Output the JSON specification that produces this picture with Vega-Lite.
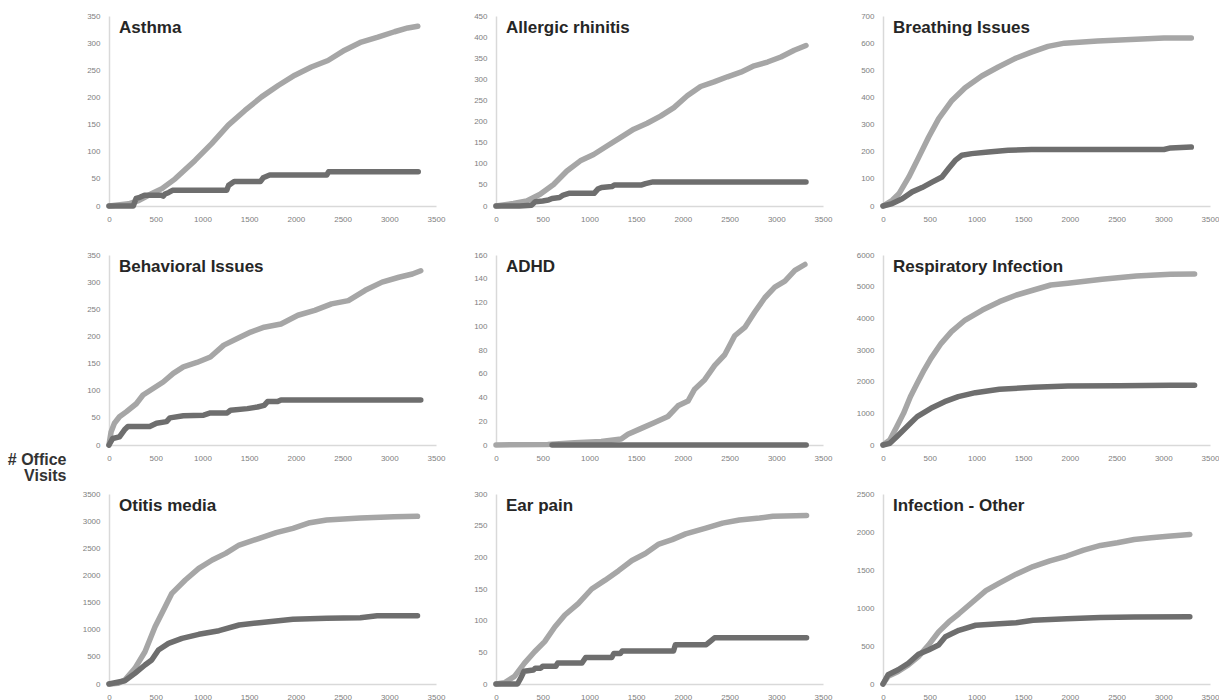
{
  "$schema": "https://vega.github.io/schema/vega-lite/v6.json",
  "background": "white",
  "padding": {"left": 7, "top": 12, "right": 0, "bottom": 0},
  "columns": 3,
  "spacing": {"row": 49, "column": 60},
  "bounds": "flush",
  "datasets": {
    "asthma": [
      {"series":"light","x":0,"y":0},{"series":"light","x":210,"y":4},{"series":"light","x":317,"y":10},{"series":"light","x":459,"y":23},{"series":"light","x":566,"y":32},{"series":"light","x":708,"y":50},{"series":"light","x":921,"y":84},{"series":"light","x":1099,"y":115},{"series":"light","x":1277,"y":149},{"series":"light","x":1455,"y":176},{"series":"light","x":1633,"y":201},{"series":"light","x":1811,"y":222},{"series":"light","x":1989,"y":241},{"series":"light","x":2166,"y":256},{"series":"light","x":2344,"y":268},{"series":"light","x":2522,"y":287},{"series":"light","x":2700,"y":302},{"series":"light","x":2878,"y":311},{"series":"light","x":3056,"y":321},{"series":"light","x":3198,"y":328},{"series":"light","x":3305,"y":331},
      {"series":"dark","x":0,"y":0},{"series":"dark","x":260,"y":0},{"series":"dark","x":290,"y":14},{"series":"dark","x":330,"y":16},{"series":"dark","x":380,"y":20},{"series":"dark","x":560,"y":20},{"series":"dark","x":580,"y":18},{"series":"dark","x":600,"y":22},{"series":"dark","x":640,"y":25},{"series":"dark","x":680,"y":29},{"series":"dark","x":1260,"y":29},{"series":"dark","x":1280,"y":38},{"series":"dark","x":1340,"y":45},{"series":"dark","x":1620,"y":45},{"series":"dark","x":1650,"y":52},{"series":"dark","x":1720,"y":57},{"series":"dark","x":2330,"y":57},{"series":"dark","x":2350,"y":63},{"series":"dark","x":3310,"y":63}
    ],
    "allergic": [
      {"series":"light","x":0,"y":0},{"series":"light","x":186,"y":6},{"series":"light","x":329,"y":12},{"series":"light","x":472,"y":28},{"series":"light","x":616,"y":51},{"series":"light","x":759,"y":83},{"series":"light","x":902,"y":107},{"series":"light","x":1045,"y":122},{"series":"light","x":1188,"y":142},{"series":"light","x":1331,"y":162},{"series":"light","x":1475,"y":182},{"series":"light","x":1618,"y":196},{"series":"light","x":1761,"y":213},{"series":"light","x":1904,"y":233},{"series":"light","x":2047,"y":261},{"series":"light","x":2190,"y":283},{"series":"light","x":2334,"y":294},{"series":"light","x":2477,"y":306},{"series":"light","x":2620,"y":317},{"series":"light","x":2763,"y":332},{"series":"light","x":2906,"y":341},{"series":"light","x":3049,"y":353},{"series":"light","x":3192,"y":369},{"series":"light","x":3318,"y":380},
      {"series":"dark","x":0,"y":0},{"series":"dark","x":250,"y":0},{"series":"dark","x":380,"y":2},{"series":"dark","x":420,"y":10},{"series":"dark","x":500,"y":12},{"series":"dark","x":560,"y":14},{"series":"dark","x":600,"y":18},{"series":"dark","x":680,"y":20},{"series":"dark","x":720,"y":26},{"series":"dark","x":780,"y":30},{"series":"dark","x":1050,"y":30},{"series":"dark","x":1090,"y":40},{"series":"dark","x":1130,"y":44},{"series":"dark","x":1240,"y":46},{"series":"dark","x":1270,"y":50},{"series":"dark","x":1560,"y":50},{"series":"dark","x":1600,"y":53},{"series":"dark","x":1680,"y":57},{"series":"dark","x":3318,"y":57}
    ],
    "breathing": [
      {"series":"light","x":0,"y":0},{"series":"light","x":99,"y":21},{"series":"light","x":170,"y":45},{"series":"light","x":277,"y":107},{"series":"light","x":383,"y":180},{"series":"light","x":489,"y":254},{"series":"light","x":596,"y":322},{"series":"light","x":738,"y":389},{"series":"light","x":879,"y":436},{"series":"light","x":1057,"y":479},{"series":"light","x":1234,"y":512},{"series":"light","x":1411,"y":543},{"series":"light","x":1589,"y":567},{"series":"light","x":1766,"y":588},{"series":"light","x":1943,"y":600},{"series":"light","x":2298,"y":608},{"series":"light","x":2652,"y":613},{"series":"light","x":3007,"y":619},{"series":"light","x":3300,"y":619},
      {"series":"dark","x":0,"y":0},{"series":"dark","x":99,"y":9},{"series":"dark","x":206,"y":27},{"series":"dark","x":312,"y":52},{"series":"dark","x":418,"y":68},{"series":"dark","x":525,"y":88},{"series":"dark","x":631,"y":107},{"series":"dark","x":702,"y":138},{"series":"dark","x":773,"y":168},{"series":"dark","x":844,"y":187},{"series":"dark","x":950,"y":193},{"series":"dark","x":1128,"y":199},{"series":"dark","x":1340,"y":205},{"series":"dark","x":1589,"y":208},{"series":"dark","x":3007,"y":208},{"series":"dark","x":3078,"y":214},{"series":"dark","x":3300,"y":217}
    ],
    "behavioral": [
      {"series":"light","x":0,"y":0},{"series":"light","x":22,"y":24},{"series":"light","x":58,"y":40},{"series":"light","x":112,"y":52},{"series":"light","x":184,"y":61},{"series":"light","x":292,"y":76},{"series":"light","x":364,"y":92},{"series":"light","x":472,"y":104},{"series":"light","x":580,"y":116},{"series":"light","x":688,"y":132},{"series":"light","x":796,"y":144},{"series":"light","x":941,"y":152},{"series":"light","x":1085,"y":162},{"series":"light","x":1229,"y":184},{"series":"light","x":1373,"y":196},{"series":"light","x":1517,"y":208},{"series":"light","x":1661,"y":217},{"series":"light","x":1841,"y":223},{"series":"light","x":2022,"y":239},{"series":"light","x":2202,"y":248},{"series":"light","x":2382,"y":260},{"series":"light","x":2562,"y":266},{"series":"light","x":2742,"y":285},{"series":"light","x":2923,"y":300},{"series":"light","x":3103,"y":309},{"series":"light","x":3247,"y":315},{"series":"light","x":3337,"y":321},
      {"series":"dark","x":0,"y":0},{"series":"dark","x":40,"y":12},{"series":"dark","x":112,"y":15},{"series":"dark","x":166,"y":28},{"series":"dark","x":202,"y":34},{"series":"dark","x":436,"y":34},{"series":"dark","x":508,"y":40},{"series":"dark","x":616,"y":43},{"series":"dark","x":652,"y":50},{"series":"dark","x":796,"y":54},{"series":"dark","x":1013,"y":55},{"series":"dark","x":1085,"y":59},{"series":"dark","x":1265,"y":59},{"series":"dark","x":1301,"y":64},{"series":"dark","x":1481,"y":67},{"series":"dark","x":1589,"y":70},{"series":"dark","x":1661,"y":73},{"series":"dark","x":1697,"y":80},{"series":"dark","x":1805,"y":80},{"series":"dark","x":1841,"y":83},{"series":"dark","x":3337,"y":83}
    ],
    "adhd": [
      {"series":"light","x":0,"y":0},{"series":"light","x":554,"y":0.5},{"series":"light","x":840,"y":2},{"series":"light","x":1126,"y":3},{"series":"light","x":1340,"y":5},{"series":"light","x":1412,"y":9},{"series":"light","x":1555,"y":14},{"series":"light","x":1698,"y":19},{"series":"light","x":1840,"y":24},{"series":"light","x":1948,"y":33},{"series":"light","x":2055,"y":37},{"series":"light","x":2126,"y":47},{"series":"light","x":2234,"y":55},{"series":"light","x":2341,"y":67},{"series":"light","x":2448,"y":76},{"series":"light","x":2555,"y":92},{"series":"light","x":2663,"y":99},{"series":"light","x":2770,"y":112},{"series":"light","x":2877,"y":124},{"series":"light","x":2984,"y":133},{"series":"light","x":3092,"y":138},{"series":"light","x":3199,"y":147},{"series":"light","x":3306,"y":152},
      {"series":"dark","x":600,"y":0},{"series":"dark","x":3320,"y":0}
    ],
    "respiratory": [
      {"series":"light","x":0,"y":0},{"series":"light","x":73,"y":158},{"series":"light","x":147,"y":579},{"series":"light","x":220,"y":1000},{"series":"light","x":293,"y":1526},{"series":"light","x":366,"y":1947},{"series":"light","x":440,"y":2368},{"series":"light","x":513,"y":2737},{"series":"light","x":623,"y":3211},{"series":"light","x":733,"y":3579},{"series":"light","x":879,"y":3947},{"series":"light","x":1063,"y":4263},{"series":"light","x":1246,"y":4526},{"series":"light","x":1429,"y":4737},{"series":"light","x":1612,"y":4895},{"series":"light","x":1796,"y":5053},{"series":"light","x":1979,"y":5105},{"series":"light","x":2345,"y":5232},{"series":"light","x":2712,"y":5337},{"series":"light","x":3078,"y":5389},{"series":"light","x":3335,"y":5400},
      {"series":"dark","x":0,"y":0},{"series":"dark","x":73,"y":53},{"series":"dark","x":147,"y":263},{"series":"dark","x":220,"y":474},{"series":"dark","x":293,"y":684},{"series":"dark","x":366,"y":895},{"series":"dark","x":513,"y":1158},{"series":"dark","x":660,"y":1368},{"series":"dark","x":806,"y":1526},{"series":"dark","x":989,"y":1653},{"series":"dark","x":1246,"y":1758},{"series":"dark","x":1612,"y":1821},{"series":"dark","x":1979,"y":1863},{"series":"dark","x":2528,"y":1874},{"series":"dark","x":3078,"y":1884},{"series":"dark","x":3335,"y":1884}
    ],
    "otitis": [
      {"series":"light","x":0,"y":0},{"series":"light","x":97,"y":12},{"series":"light","x":169,"y":74},{"series":"light","x":277,"y":289},{"series":"light","x":385,"y":595},{"series":"light","x":493,"y":1056},{"series":"light","x":601,"y":1424},{"series":"light","x":673,"y":1670},{"series":"light","x":817,"y":1915},{"series":"light","x":961,"y":2130},{"series":"light","x":1105,"y":2284},{"series":"light","x":1249,"y":2406},{"series":"light","x":1393,"y":2560},{"series":"light","x":1609,"y":2683},{"series":"light","x":1789,"y":2787},{"series":"light","x":1969,"y":2867},{"series":"light","x":2150,"y":2971},{"series":"light","x":2330,"y":3020},{"series":"light","x":2690,"y":3057},{"series":"light","x":3050,"y":3082},{"series":"light","x":3302,"y":3088},
      {"series":"dark","x":0,"y":0},{"series":"dark","x":169,"y":61},{"series":"dark","x":277,"y":196},{"series":"dark","x":385,"y":350},{"series":"dark","x":457,"y":442},{"series":"dark","x":529,"y":626},{"series":"dark","x":637,"y":749},{"series":"dark","x":781,"y":841},{"series":"dark","x":961,"y":915},{"series":"dark","x":1178,"y":982},{"series":"dark","x":1393,"y":1087},{"series":"dark","x":1609,"y":1130},{"series":"dark","x":1969,"y":1191},{"series":"dark","x":2330,"y":1209},{"series":"dark","x":2690,"y":1222},{"series":"dark","x":2870,"y":1258},{"series":"dark","x":3302,"y":1258}
    ],
    "ear": [
      {"series":"light","x":0,"y":0},{"series":"light","x":90,"y":2},{"series":"light","x":198,"y":12},{"series":"light","x":305,"y":33},{"series":"light","x":413,"y":51},{"series":"light","x":521,"y":67},{"series":"light","x":629,"y":90},{"series":"light","x":737,"y":109},{"series":"light","x":880,"y":127},{"series":"light","x":1024,"y":150},{"series":"light","x":1168,"y":164},{"series":"light","x":1312,"y":179},{"series":"light","x":1455,"y":195},{"series":"light","x":1599,"y":206},{"series":"light","x":1743,"y":221},{"series":"light","x":1886,"y":228},{"series":"light","x":2030,"y":237},{"series":"light","x":2246,"y":246},{"series":"light","x":2425,"y":254},{"series":"light","x":2605,"y":259},{"series":"light","x":2821,"y":262},{"series":"light","x":2964,"y":265},{"series":"light","x":3324,"y":266},
      {"series":"dark","x":0,"y":0},{"series":"dark","x":230,"y":0},{"series":"dark","x":260,"y":8},{"series":"dark","x":300,"y":20},{"series":"dark","x":400,"y":22},{"series":"dark","x":420,"y":25},{"series":"dark","x":480,"y":25},{"series":"dark","x":500,"y":28},{"series":"dark","x":640,"y":28},{"series":"dark","x":660,"y":33},{"series":"dark","x":920,"y":33},{"series":"dark","x":960,"y":42},{"series":"dark","x":1240,"y":42},{"series":"dark","x":1260,"y":48},{"series":"dark","x":1330,"y":48},{"series":"dark","x":1350,"y":52},{"series":"dark","x":1900,"y":52},{"series":"dark","x":1920,"y":62},{"series":"dark","x":2250,"y":62},{"series":"dark","x":2300,"y":68},{"series":"dark","x":2340,"y":73},{"series":"dark","x":3324,"y":73}
    ],
    "infection": [
      {"series":"light","x":0,"y":0},{"series":"light","x":54,"y":100},{"series":"light","x":162,"y":165},{"series":"light","x":271,"y":252},{"series":"light","x":379,"y":360},{"series":"light","x":487,"y":512},{"series":"light","x":595,"y":686},{"series":"light","x":704,"y":816},{"series":"light","x":812,"y":924},{"series":"light","x":956,"y":1076},{"series":"light","x":1101,"y":1228},{"series":"light","x":1245,"y":1328},{"series":"light","x":1425,"y":1445},{"series":"light","x":1606,"y":1545},{"series":"light","x":1786,"y":1619},{"series":"light","x":1967,"y":1684},{"series":"light","x":2147,"y":1762},{"series":"light","x":2328,"y":1823},{"series":"light","x":2508,"y":1858},{"series":"light","x":2689,"y":1901},{"series":"light","x":2869,"y":1923},{"series":"light","x":3050,"y":1944},{"series":"light","x":3284,"y":1966},
      {"series":"dark","x":0,"y":0},{"series":"dark","x":54,"y":122},{"series":"dark","x":162,"y":187},{"series":"dark","x":271,"y":273},{"series":"dark","x":379,"y":391},{"series":"dark","x":487,"y":447},{"series":"dark","x":595,"y":512},{"series":"dark","x":668,"y":621},{"series":"dark","x":812,"y":707},{"series":"dark","x":992,"y":773},{"series":"dark","x":1245,"y":794},{"series":"dark","x":1425,"y":807},{"series":"dark","x":1606,"y":838},{"series":"dark","x":1967,"y":859},{"series":"dark","x":2328,"y":875},{"series":"dark","x":2689,"y":881},{"series":"dark","x":3284,"y":885}
    ]
  },
  "concat": [
    {
      "width": 327, "height": 190,
      "data": {"name": "asthma"},
      "title": "Asthma",
      "mark": "line",
      "encoding": {
        "x": {"field": "x", "type": "quantitative", "scale": {"domain": [0, 3500], "nice": false}, "axis": {"values": [0,500,1000,1500,2000,2500,3000,3500], "title": null}},
        "y": {"field": "y", "type": "quantitative", "scale": {"domain": [0, 350], "nice": false}, "axis": {"values": [0,50,100,150,200,250,300,350], "title": null}},
        "color": {"field": "series", "type": "nominal", "scale": {"domain": ["light", "dark"], "range": ["#a6a6a6", "#6e6e6e"]}, "legend": null}
      }
    },
    {
      "width": 327, "height": 190,
      "data": {"name": "allergic"},
      "title": "Allergic  rhinitis",
      "mark": "line",
      "encoding": {
        "x": {"field": "x", "type": "quantitative", "scale": {"domain": [0, 3500], "nice": false}, "axis": {"values": [0,500,1000,1500,2000,2500,3000,3500], "title": null}},
        "y": {"field": "y", "type": "quantitative", "scale": {"domain": [0, 450], "nice": false}, "axis": {"values": [0,50,100,150,200,250,300,350,400,450], "title": null}},
        "color": {"field": "series", "type": "nominal", "scale": {"domain": ["light", "dark"], "range": ["#a6a6a6", "#6e6e6e"]}, "legend": null}
      }
    },
    {
      "width": 327, "height": 190,
      "data": {"name": "breathing"},
      "title": "Breathing  Issues",
      "mark": "line",
      "encoding": {
        "x": {"field": "x", "type": "quantitative", "scale": {"domain": [0, 3500], "nice": false}, "axis": {"values": [0,500,1000,1500,2000,2500,3000,3500], "title": null}},
        "y": {"field": "y", "type": "quantitative", "scale": {"domain": [0, 700], "nice": false}, "axis": {"values": [0,100,200,300,400,500,600,700], "title": null}},
        "color": {"field": "series", "type": "nominal", "scale": {"domain": ["light", "dark"], "range": ["#a6a6a6", "#6e6e6e"]}, "legend": null}
      }
    },
    {
      "width": 327, "height": 190,
      "data": {"name": "behavioral"},
      "title": "Behavioral  Issues",
      "mark": "line",
      "encoding": {
        "x": {"field": "x", "type": "quantitative", "scale": {"domain": [0, 3500], "nice": false}, "axis": {"values": [0,500,1000,1500,2000,2500,3000,3500], "title": null}},
        "y": {"field": "y", "type": "quantitative", "scale": {"domain": [0, 350], "nice": false}, "axis": {"values": [0,50,100,150,200,250,300,350], "title": ["# Office", "Visits"], "titleAngle": 0, "titleAlign": "right", "titleBaseline": "alphabetic", "titleX": -43, "titleY": 209, "titleFont": "Liberation Sans", "titleFontSize": 16, "titleFontWeight": "bold", "titleColor": "#333333", "titleLineHeight": 16}},
        "color": {"field": "series", "type": "nominal", "scale": {"domain": ["light", "dark"], "range": ["#a6a6a6", "#6e6e6e"]}, "legend": null}
      }
    },
    {
      "width": 327, "height": 190,
      "data": {"name": "adhd"},
      "title": "ADHD",
      "mark": "line",
      "encoding": {
        "x": {"field": "x", "type": "quantitative", "scale": {"domain": [0, 3500], "nice": false}, "axis": {"values": [0,500,1000,1500,2000,2500,3000,3500], "title": null}},
        "y": {"field": "y", "type": "quantitative", "scale": {"domain": [0, 160], "nice": false}, "axis": {"values": [0,20,40,60,80,100,120,140,160], "title": null}},
        "color": {"field": "series", "type": "nominal", "scale": {"domain": ["light", "dark"], "range": ["#a6a6a6", "#6e6e6e"]}, "legend": null}
      }
    },
    {
      "width": 327, "height": 190,
      "data": {"name": "respiratory"},
      "title": "Respiratory Infection",
      "mark": "line",
      "encoding": {
        "x": {"field": "x", "type": "quantitative", "scale": {"domain": [0, 3500], "nice": false}, "axis": {"values": [0,500,1000,1500,2000,2500,3000,3500], "title": null}},
        "y": {"field": "y", "type": "quantitative", "scale": {"domain": [0, 6000], "nice": false}, "axis": {"values": [0,1000,2000,3000,4000,5000,6000], "title": null}},
        "color": {"field": "series", "type": "nominal", "scale": {"domain": ["light", "dark"], "range": ["#a6a6a6", "#6e6e6e"]}, "legend": null}
      }
    },
    {
      "width": 327, "height": 190,
      "data": {"name": "otitis"},
      "title": "Otitis media",
      "mark": "line",
      "encoding": {
        "x": {"field": "x", "type": "quantitative", "scale": {"domain": [0, 3500], "nice": false}, "axis": {"values": [0,500,1000,1500,2000,2500,3000,3500], "title": null}},
        "y": {"field": "y", "type": "quantitative", "scale": {"domain": [0, 3500], "nice": false}, "axis": {"values": [0,500,1000,1500,2000,2500,3000,3500], "title": null}},
        "color": {"field": "series", "type": "nominal", "scale": {"domain": ["light", "dark"], "range": ["#a6a6a6", "#6e6e6e"]}, "legend": null}
      }
    },
    {
      "width": 327, "height": 190,
      "data": {"name": "ear"},
      "title": "Ear pain",
      "mark": "line",
      "encoding": {
        "x": {"field": "x", "type": "quantitative", "scale": {"domain": [0, 3500], "nice": false}, "axis": {"values": [0,500,1000,1500,2000,2500,3000,3500], "title": null}},
        "y": {"field": "y", "type": "quantitative", "scale": {"domain": [0, 300], "nice": false}, "axis": {"values": [0,50,100,150,200,250,300], "title": null}},
        "color": {"field": "series", "type": "nominal", "scale": {"domain": ["light", "dark"], "range": ["#a6a6a6", "#6e6e6e"]}, "legend": null}
      }
    },
    {
      "width": 327, "height": 190,
      "data": {"name": "infection"},
      "title": "Infection  - Other",
      "mark": "line",
      "encoding": {
        "x": {"field": "x", "type": "quantitative", "scale": {"domain": [0, 3500], "nice": false}, "axis": {"values": [0,500,1000,1500,2000,2500,3000,3500], "title": null}},
        "y": {"field": "y", "type": "quantitative", "scale": {"domain": [0, 2500], "nice": false}, "axis": {"values": [0,500,1000,1500,2000,2500], "title": null}},
        "color": {"field": "series", "type": "nominal", "scale": {"domain": ["light", "dark"], "range": ["#a6a6a6", "#6e6e6e"]}, "legend": null}
      }
    }
  ],
  "resolve": {"scale": {"y": "independent", "x": "independent"}},
  "config": {
    "view": {"stroke": null},
    "axis": {"grid": false, "ticks": false, "tickSize": 0, "domainColor": "#d9d9d9", "domainWidth": 1.5, "labelFont": "Liberation Sans", "labelFontSize": 8, "labelColor": "#808080", "labelPadding": 9, "labelFlush": false, "labelOverlap": false, "format": "d"},
    "line": {"strokeWidth": 5.5, "strokeCap": "round", "strokeJoin": "round"},
    "title": {"anchor": "start", "frame": "group", "font": "Liberation Sans", "fontSize": 17, "fontWeight": "bold", "color": "#262626", "offset": -25, "dx": 10, "baseline": "alphabetic"}
  }
}
